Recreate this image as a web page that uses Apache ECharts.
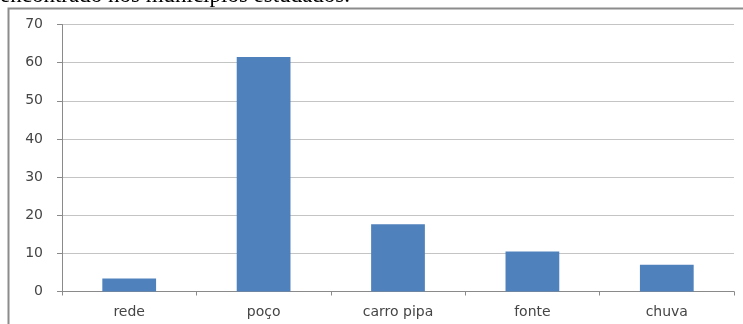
<!DOCTYPE html>
<html>
<head>
<meta charset="utf-8">
<script src="https://cdn.jsdelivr.net/npm/echarts@6/dist/echarts.min.js"></script>
<style>
  html, body { margin: 0; padding: 0; background: #fff; }
  #chart { width: 743px; height: 324px; }
</style>
</head>
<body>
<div id="chart"></div>
<script>
// Fontes de abastecimento de água (%)
const categories = ['rede', 'poço', 'carro pipa', 'fonte', 'chuva'];
const values = [3.4, 61.5, 17.6, 10.5, 7.0];
const yTicks = [0, 10, 20, 30, 40, 50, 60, 70];

const caption = 'encontrado nos municípios estudados.';
const labelFont = '"DejaVu Sans", sans-serif';

const chart = echarts.init(document.getElementById('chart'), null, { renderer: 'canvas' });

chart.setOption({
  animation: false,
  backgroundColor: '#ffffff',
  graphic: [
    {
      type: 'text',
      left: 0,
      top: -16,
      style: {
        text: caption,
        font: '23px "Liberation Serif", serif',
        fill: '#000000'
      },
      z: 10
    },
    {
      type: 'rect',
      shape: { x: 8.5, y: 8.5, width: 760, height: 340 },
      style: { fill: 'none', stroke: '#8c8c8c', lineWidth: 2 },
      z: 5
    }
  ],
  grid: {
    left: 62,
    right: 9,
    top: 24.5,
    bottom: 32.5,
    containLabel: false
  },
  xAxis: {
    type: 'category',
    data: categories,
    axisLine: { lineStyle: { color: '#8a8a8a', width: 1 } },
    axisTick: { show: true, length: 4, lineStyle: { color: '#8a8a8a' } },
    axisLabel: {
      color: '#454545',
      fontFamily: labelFont,
      fontSize: 14,
      margin: 14
    }
  },
  yAxis: {
    type: 'value',
    min: yTicks[0],
    max: yTicks[yTicks.length - 1],
    interval: 10,
    axisLine: { show: true, lineStyle: { color: '#8a8a8a', width: 1 } },
    axisTick: { show: true, length: 5, lineStyle: { color: '#8a8a8a' } },
    splitLine: { show: true, lineStyle: { color: '#c4c4c4', width: 1 } },
    axisLabel: {
      color: '#454545',
      fontFamily: labelFont,
      fontSize: 14,
      margin: 19
    }
  },
  series: [
    {
      type: 'bar',
      data: values,
      barWidth: '40%',
      itemStyle: { color: '#4f81bd' }
    }
  ]
});
</script>
</body>
</html>
